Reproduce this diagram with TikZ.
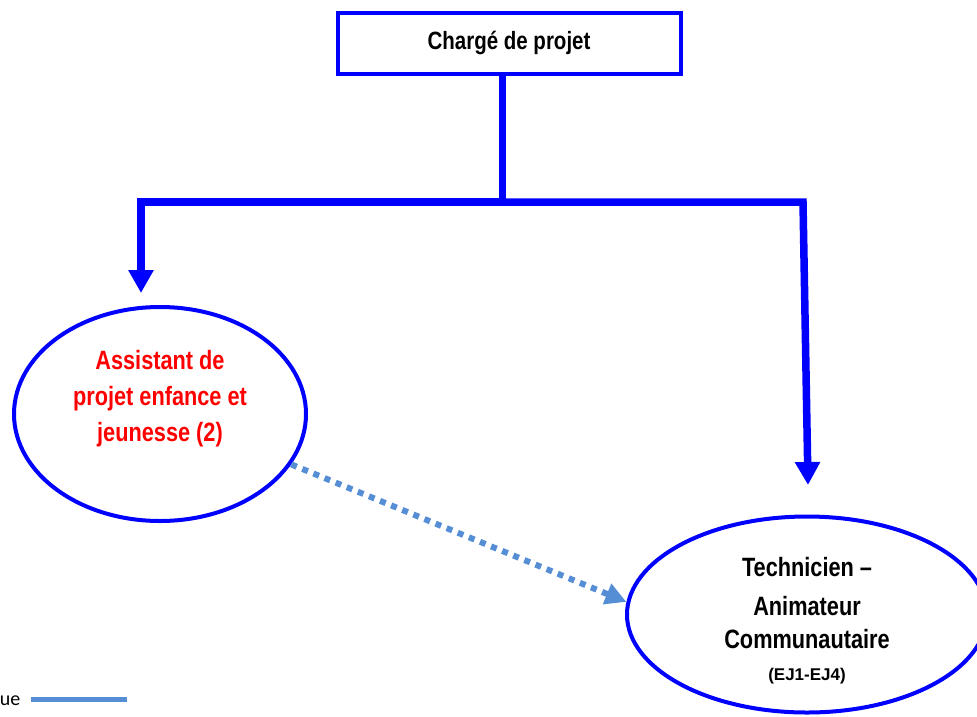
\documentclass[tikz,border=0pt]{standalone}
\usepackage{fontspec}
\setmainfont{Liberation Sans}
\newfontfamily\narrowsans[FakeStretch=0.82,Ligatures=TeX]{Liberation Sans}
\newfontfamily\legendfont{Carlito}
\usetikzlibrary{arrows.meta,shapes.geometric}
\definecolor{mainblue}{RGB}{0,0,255}
\definecolor{lightblue}{RGB}{85,142,213}
\definecolor{redtext}{RGB}{255,0,0}
\begin{document}
\begin{tikzpicture}[x=1pt,y=-1pt,
  boxnode/.style={draw=mainblue, line width=4pt, rectangle, minimum width=343pt, minimum height=61pt, inner sep=0pt, font=\narrowsans\bfseries\fontsize{25}{28}\selectfont},
  ellnode/.style={draw=mainblue, line width=4pt, ellipse, inner sep=0pt},
  conn/.style={draw=mainblue, line width=7.5pt, line join=miter},
  connarrow/.style={conn, -{Triangle[length=23pt,width=24pt]}},
  dotarrow/.style={draw=lightblue, line width=6pt, dash pattern=on 6pt off 6pt, -{Triangle[length=21pt,width=21pt]}},
  redlabel/.style={inner sep=0pt, align=center, text=redtext, font=\narrowsans\bfseries\fontsize{26.5}{36}\selectfont},
  blacklabel/.style={inner sep=0pt, align=center, text=black, font=\narrowsans\bfseries\fontsize{26.5}{36}\selectfont},
  legendline/.style={draw=lightblue, line width=5pt}
]
\useasboundingbox (0,0) rectangle (977,716);

% nodes
\node[boxnode] (chef) at (509,43) {Chargé de projet};
\node[ellnode, minimum width=292pt, minimum height=214pt] (assist) at (160,414) {};
\node[redlabel] (asstext) at (160,398.5) {Assistant de\\projet enfance et\\jeunesse (2)};
\node[ellnode, minimum width=360pt, minimum height=196pt] (tech) at (807,614.5) {};
\node[blacklabel] (techtext) at (807,621) {Technicien –\\[3pt]Animateur\\[-3pt]Communautaire\\[-4pt]{\normalfont\bfseries\fontsize{17}{19}\selectfont (EJ1-EJ4)}};

% connector coordinates
\coordinate (j) at (502.5,202);
\coordinate (cL) at (141,202);
\coordinate (cR) at (803,202);
\coordinate (tipL) at (141,293);
\coordinate (tipR) at (808,485);

\draw[conn] (chef.south -| j) -- (j);
\draw[connarrow] (j) -- (cL) -- (tipL);
\draw[connarrow] (j) -- (cR) -- (tipR);

% dotted relation
\draw[dotarrow] (assist.-21) -- (tech.176);

% legend fragment
\node[anchor=base east, inner sep=0pt, font=\legendfont\fontsize{20}{24}\selectfont] (legtext) at (20.5,705) {ue};
\coordinate (lg1) at (31,699.5);
\coordinate (lg2) at (127,699.5);
\draw[legendline] (lg1) -- (lg2);
\end{tikzpicture}
\end{document}
